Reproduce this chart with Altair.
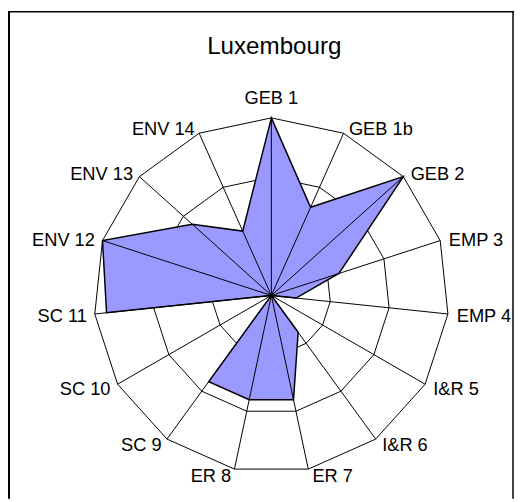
import altair as alt
import pandas as pd

# ---- data ----
categories = ["GEB 1", "GEB 1b", "GEB 2", "EMP 3", "EMP 4", "I&R 5", "I&R 6",
              "ER 7", "ER 8", "SC 9", "SC 10", "SC 11", "ENV 12", "ENV 13", "ENV 14"]
values = [3.0, 1.63, 3.0, 1.2, 0.42, 0.0, 0.77, 1.8, 1.8, 1.8, 0.0, 2.8, 3.0, 1.8, 1.19]
ring_levels = [1, 2, 3]
max_value = 3
title_text = "Luxembourg"

FONT = "Liberation Sans"
n = len(categories)
ANG = f"2*PI*datum.i/{n}"
H = 494

data = pd.DataFrame({"category": categories, "value": values, "i": list(range(n))})
grid = pd.DataFrame([{"ring": r, "i": i} for r in ring_levels for i in range(n)])
axes_df = pd.DataFrame({"category": categories, "i": list(range(n))})

xs = alt.Scale(domain=[-max_value, max_value], range=[87, 447], nice=False, zero=False)
ys = alt.Scale(domain=[-max_value, max_value], range=[468, 108], nice=False, zero=False)

rings = alt.Chart(grid).transform_calculate(
    gx=f"datum.ring*sin({ANG})", gy=f"datum.ring*cos({ANG})"
).mark_line(stroke="black", strokeWidth=1, interpolate="linear-closed").encode(
    x=alt.X("gx:Q", scale=xs, axis=None),
    y=alt.Y("gy:Q", scale=ys, axis=None),
    detail="ring:N",
    order="i:Q",
)

poly = alt.Chart(data).transform_calculate(
    px=f"datum.value*sin({ANG})", py=f"datum.value*cos({ANG})"
).mark_line(fill="#9999FF", stroke="black", strokeWidth=1.5,
            interpolate="linear-closed").encode(
    x=alt.X("px:Q", scale=xs, axis=None),
    y=alt.Y("py:Q", scale=ys, axis=None),
    order="i:Q",
)

spokes = alt.Chart(axes_df).transform_calculate(
    zx="0", zy="0",
    sx=f"{max_value}*sin({ANG})", sy=f"{max_value}*cos({ANG})"
).mark_rule(color="black", strokeWidth=1).encode(
    x=alt.X("zx:Q", scale=xs, axis=None),
    y=alt.Y("zy:Q", scale=ys, axis=None),
    x2="sx:Q", y2="sy:Q",
)

lab_base = alt.Chart(axes_df).transform_calculate(
    lx=f"3.1*sin({ANG})", ly=f"3.1*cos({ANG})"
)

def lab_enc():
    return dict(x=alt.X("lx:Q", scale=xs, axis=None),
                y=alt.Y("ly:Q", scale=ys, axis=None),
                text="category:N")

labels_right = lab_base.transform_filter("datum.i >= 1 && datum.i <= 7").mark_text(
    font=FONT, fontSize=18.5, color="black", align="left", baseline="middle", dx=3, dy=1.5
).encode(**lab_enc())

labels_left = lab_base.transform_filter("datum.i >= 8").mark_text(
    font=FONT, fontSize=18.5, color="black", align="right", baseline="middle", dx=-2, dy=1.5
).encode(**lab_enc())

label_top = lab_base.transform_filter("datum.i == 0").mark_text(
    font=FONT, fontSize=18.5, color="black", align="center", baseline="alphabetic", dy=-8
).encode(**lab_enc())

title = alt.Chart(pd.DataFrame({"t": [title_text]})).mark_text(
    font=FONT, fontSize=24.5, color="black", align="center", baseline="alphabetic"
).encode(x=alt.value(270), y=alt.value(43.7), text="t:N")

one = pd.DataFrame({"a": [0]})
frame_left = alt.Chart(one).mark_rule(color="black", strokeWidth=2).encode(
    x=alt.value(1), y=alt.value(0), y2=alt.value(H))
frame_right = alt.Chart(one).mark_rule(color="black", strokeWidth=1.5).encode(
    x=alt.value(512), y=alt.value(0), y2=alt.value(H))
frame_top = alt.Chart(one).mark_rule(color="black", strokeWidth=1.5).encode(
    x=alt.value(0), x2=alt.value(513), y=alt.value(0.5))

chart = alt.layer(
    rings, poly, spokes, labels_right, labels_left, label_top, title,
    frame_left, frame_right, frame_top
).properties(
    width=513, height=H,
    autosize=alt.AutoSizeParams(type="none"),
    padding=0,
).configure_view(stroke=None)

chart.save("out.html", embed_options={"renderer": "svg", "actions": False})
